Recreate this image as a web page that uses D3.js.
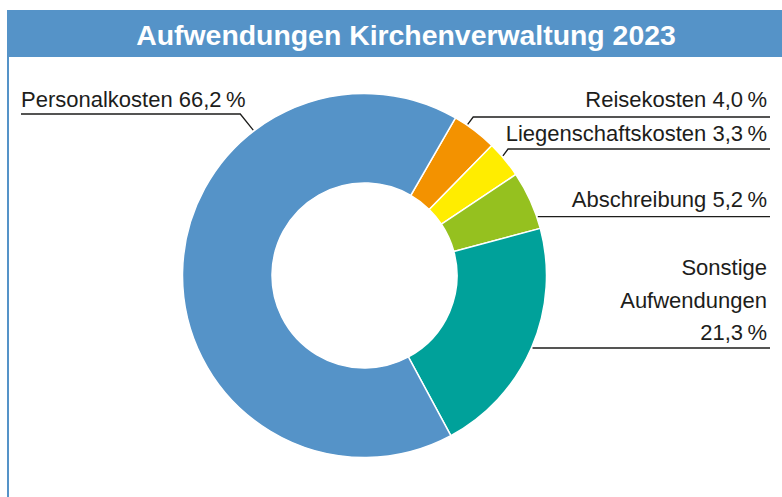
<!DOCTYPE html>
<html>
<head>
<meta charset="utf-8">
<script src="https://cdn.jsdelivr.net/npm/d3@7"></script>
<style>
  body { margin: 0; background: #fff; }
  svg { display: block; font-family: "Liberation Sans", Arial, sans-serif; }
</style>
</head>
<body>
<svg width="782" height="497"></svg>
<script>
// data (clockwise, starting at the top right)
const categories = ['Reisekosten', 'Liegenschaftskosten', 'Abschreibung', 'Sonstige Aufwendungen', 'Personalkosten'];
const values = [4.0, 3.3, 5.2, 21.3, 66.2];
const colors = ['#f39200', '#ffed00', '#95c11f', '#00a19a', '#5593c8'];
const labelLines = [
  ['Reisekosten 4,0\u2009%'],
  ['Liegenschaftskosten 3,3\u2009%'],
  ['Abschreibung 5,2\u2009%'],
  ['Sonstige', 'Aufwendungen', '21,3\u2009%'],
  ['Personalkosten 66,2\u2009%']
];

const svg = d3.select('svg');
const cx = 364.5, cy = 275.5;
const outer = 182, inner = 92.5;

// frame + title band
svg.append('rect')
  .attr('x', 7).attr('y', 10).attr('width', 775).attr('height', 47)
  .attr('fill', '#5593c8');
svg.append('rect')
  .attr('x', 7).attr('y', 10).attr('width', 2).attr('height', 487)
  .attr('fill', '#5593c8');
svg.append('text')
  .attr('x', 406).attr('y', 45)
  .attr('text-anchor', 'middle')
  .attr('fill', '#fff')
  .attr('font-size', 28.4)
  .attr('font-weight', 'bold')
  .text('Aufwendungen Kirchenverwaltung 2023');

const pie = d3.pie().sort(null)
  .startAngle(Math.PI / 6)
  .endAngle(Math.PI / 6 + 2 * Math.PI);
const arcs = pie(values);
const arc = d3.arc().innerRadius(inner).outerRadius(outer);

const chart = svg.append('g').attr('transform', `translate(${cx}, ${cy})`);
chart.selectAll('path')
  .data(arcs)
  .enter()
  .append('path')
  .attr('d', arc)
  .attr('fill', (d, i) => colors[i])
  .attr('stroke', '#fff')
  .attr('stroke-width', 1.5);

// label layout: where on the slice the leader starts (0..1), line height, text baselines
const layout = [
  { t: 0.3, lineY: 117, side: 'right', base: [107] },
  { t: 0.4, lineY: 149, side: 'right', base: [141] },
  { t: 0.8, lineY: null, side: 'right', base: [207] },
  { t: 0.5, lineY: null, side: 'right', base: [275, 308, 340] },
  { t: 0.717, lineY: 114, side: 'left', base: [107] }
];

const ink = '#1d1d1b';
arcs.forEach((d, i) => {
  const L = layout[i];
  const a = d.startAngle + (d.endAngle - d.startAngle) * L.t;
  const r = outer + 1;
  const px = cx + r * Math.sin(a), py = cy - r * Math.cos(a);
  const y = L.lineY == null ? py : L.lineY;
  const kx = L.side === 'right' ? px + (py - y) * 0.75 : px - (py - y) * 0.8;
  const endX = L.side === 'right' ? 770 : 21;
  svg.append('polyline')
    .attr('points', `${px},${py} ${kx},${y} ${endX},${y}`)
    .attr('fill', 'none')
    .attr('stroke', ink)
    .attr('stroke-width', 1.3);
  labelLines[i].forEach((s, j) => {
    svg.append('text')
      .attr('x', L.side === 'right' ? 767 : 21)
      .attr('y', L.base[j])
      .attr('text-anchor', L.side === 'right' ? 'end' : 'start')
      .attr('font-size', 22)
      .attr('fill', ink)
      .text(s);
  });
});
</script>
</body>
</html>
